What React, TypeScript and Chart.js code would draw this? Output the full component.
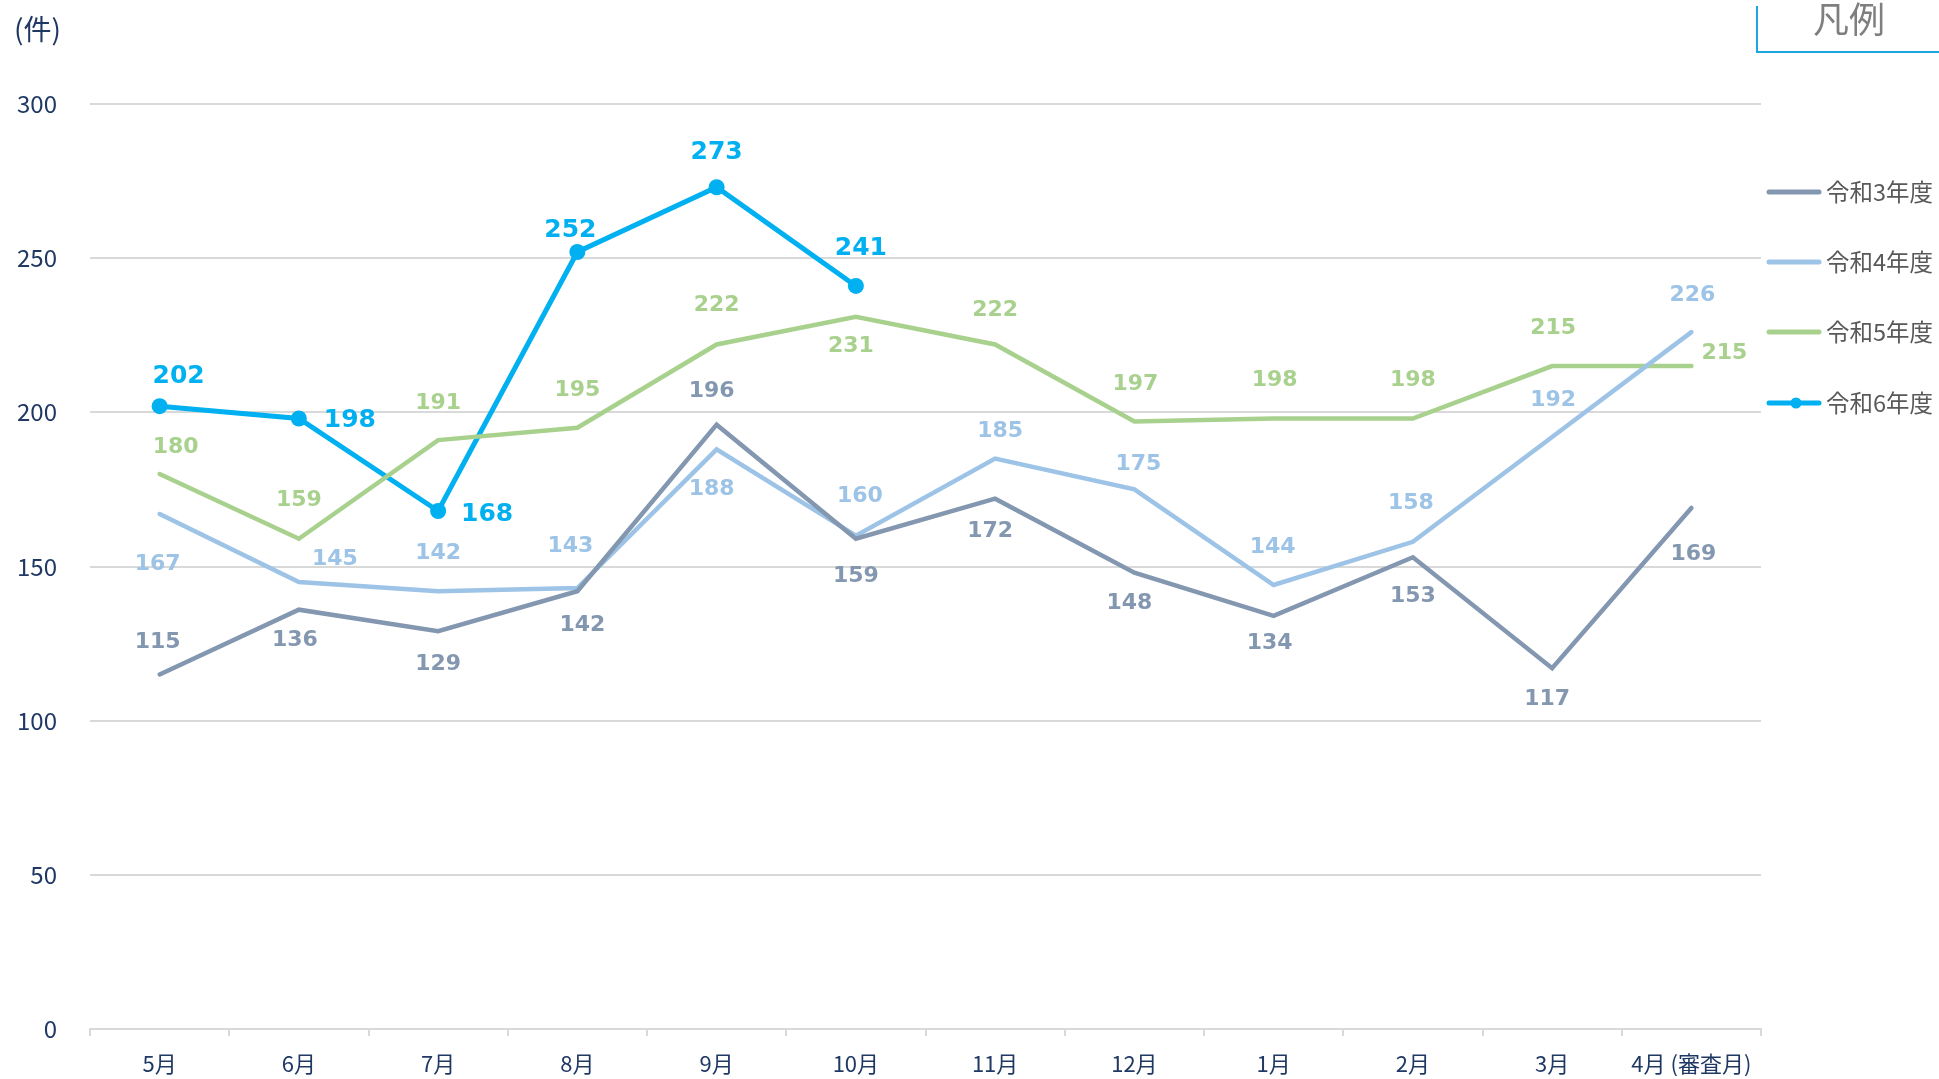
import React, { useEffect, useRef } from "react";
import { Chart, registerables } from "chart.js";

Chart.register(...registerables);

const CATEGORIES = ["5月", "6月", "7月", "8月", "9月", "10月", "11月", "12月", "1月", "2月", "3月", "4月 (審査月)"];
const SERIES_NAMES = ["令和3年度", "令和4年度", "令和5年度", "令和6年度"];
const R3 = [115, 136, 129, 142, 196, 159, 172, 148, 134, 153, 117, 169];
const R4 = [167, 145, 142, 143, 188, 160, 185, 175, 144, 158, 192, 226];
const R5 = [180, 159, 191, 195, 222, 231, 222, 197, 198, 198, 215, 215];
const R6 = [202, 198, 168, 252, 273, 241, null, null, null, null, null, null];
const Y_MIN = 0;
const Y_MAX = 300;
const Y_STEP = 50;
const Y_UNIT = "(件)";
const LEGEND_TITLE = "凡例";

// label offsets (px) relative to each point
const OFF_R3 = [[-2, -35], [-4, 28], [0, 30], [5, 31], [-5, -36], [0, 35], [-5, 30], [-5, 28], [-4, 24], [0, 36], [-5, 28], [2, 43]];
const OFF_R4 = [[-2, 47], [36, -26], [0, -41], [-7, -45], [-5, 37], [4, -42], [5, -30], [4, -28], [-1, -41], [-2, -42], [1, -40], [1, -40]];
const OFF_R5 = [[16, -30], [0, -41], [0, -40], [0, -40], [0, -42], [-5, 27], [0, -37], [1, -40], [1, -41], [0, -41], [1, -41], [33, -16]];
const OFF_R6 = [[19, -33], [51, -1], [49, 0], [-7, -25], [0, -38], [5, -40]];

const COLORS = ["#8497B0", "#9DC3E6", "#A9D18E", "#00B0F0"];
const NAVY = "#1F3864";
const JP = "'Noto Sans CJK JP', 'Noto Sans', sans-serif";

const W = 1939;
const H = 1079;

export default function App() {
  const ref = useRef<HTMLCanvasElement | null>(null);

  useEffect(() => {
    const canvas = ref.current;
    if (!canvas) return;
    const offsets = [OFF_R3, OFF_R4, OFF_R5, OFF_R6];

    const labelPlugin = {
      id: "dataLabels",
      afterDatasetsDraw(chart: any) {
        const ctx = chart.ctx;
        ctx.save();
        ctx.textAlign = "center";
        ctx.textBaseline = "middle";
        chart.data.datasets.forEach((ds: any, i: number) => {
          const meta = chart.getDatasetMeta(i);
          ctx.fillStyle = COLORS[i];
          ctx.font = i === 3 ? "bold 25px 'DejaVu Sans', Verdana, sans-serif" : "bold 22px 'DejaVu Sans', Verdana, sans-serif";
          meta.data.forEach((pt: any, j: number) => {
            const v = ds.data[j];
            if (v === null || v === undefined) return;
            const o = offsets[i][j] || [0, -30];
            ctx.fillText(String(v), pt.x + o[0], pt.y + o[1] + 3);
          });
        });
        ctx.restore();
      },
    };

    const decoPlugin = {
      id: "deco",
      afterDraw(chart: any) {
        const ctx = chart.ctx;
        ctx.save();
        // unit label
        ctx.fillStyle = NAVY;
        ctx.font = "28px " + JP;
        ctx.textAlign = "left";
        ctx.textBaseline = "middle";
        ctx.fillText(Y_UNIT, 14, 29);

        // legend title box
        ctx.strokeStyle = "#1CA7E0";
        ctx.lineWidth = 2;
        ctx.beginPath();
        ctx.moveTo(1757, 6);
        ctx.lineTo(1757, 52);
        ctx.lineTo(1939, 52);
        ctx.stroke();
        ctx.fillStyle = "#7F7F7F";
        ctx.font = "36px " + JP;
        ctx.textAlign = "center";
        ctx.fillText(LEGEND_TITLE, 1849, 19);

        // legend items
        const ys = [192, 262, 332, 403];
        SERIES_NAMES.forEach((name, i) => {
          const y = ys[i];
          ctx.strokeStyle = COLORS[i];
          ctx.lineWidth = 5;
          ctx.lineCap = "round";
          ctx.beginPath();
          ctx.moveTo(1769, y);
          ctx.lineTo(1819, y);
          ctx.stroke();
          if (i === 3) {
            ctx.fillStyle = COLORS[i];
            ctx.beginPath();
            ctx.arc(1796, y, 5.5, 0, Math.PI * 2);
            ctx.fill();
          }
          ctx.fillStyle = "#595959";
          ctx.font = "23.5px " + JP;
          ctx.textAlign = "left";
          ctx.fillText(name, 1826, y);
        });
        ctx.restore();
      },
    };

    const mk = (i: number, data: (number | null)[]) => ({
      label: SERIES_NAMES[i],
      data,
      borderColor: COLORS[i],
      backgroundColor: COLORS[i],
      borderWidth: i === 3 ? 5 : 4.5,
      pointRadius: i === 3 ? 8 : 0,
      pointBorderWidth: 0,
      pointBackgroundColor: COLORS[i],
      tension: 0,
      spanGaps: false,
      borderCapStyle: "round",
    });

    const chart = new Chart(canvas, {
      type: "line",
      data: {
        labels: CATEGORIES,
        datasets: [mk(0, R3), mk(1, R4), mk(2, R5), mk(3, R6)],
      },
      options: {
        responsive: false,
        animation: false,
        devicePixelRatio: 1,
        events: [],
        layout: { padding: { left: 0, top: 104, right: 178, bottom: 0 } },
        plugins: {
          legend: { display: false },
          tooltip: { enabled: false },
          title: { display: false },
        },
        scales: {
          x: {
            offset: true,
            grid: {
              offset: true,
              drawOnChartArea: false,
              drawTicks: true,
              tickLength: 7,
              color: "#D9D9D9",
              lineWidth: 2,
            },
            border: { display: true, color: "#D9D9D9", width: 2 },
            ticks: {
              color: NAVY,
              font: { family: JP, size: 22 },
              padding: 14,
              maxRotation: 0,
              autoSkip: false,
            },
            afterFit: (s: any) => {
              s.height = 50;
            },
          },
          y: {
            min: Y_MIN,
            max: Y_MAX,
            grid: { color: "#D9D9D9", lineWidth: 2, drawTicks: false },
            border: { display: false },
            ticks: {
              stepSize: Y_STEP,
              color: NAVY,
              font: { family: JP, size: 24 },
              padding: 33,
            },
            afterFit: (s: any) => {
              s.width = 90;
            },
          },
        },
      },
      plugins: [labelPlugin, decoPlugin],
    } as any);

    return () => chart.destroy();
  }, []);

  return (
    <div style={{ position: "absolute", left: 0, top: 0, width: W, height: H, background: "#fff" }}>
      <canvas ref={ref} width={W} height={H} style={{ display: "block", width: W, height: H }} />
    </div>
  );
}
